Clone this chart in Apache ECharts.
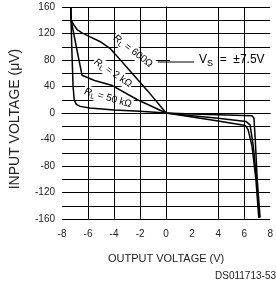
<!DOCTYPE html>
<html>
<head>
<meta charset="utf-8">
<script src="https://cdn.jsdelivr.net/npm/echarts@6/dist/echarts.min.js"></script>
<style>
html, body { margin: 0; padding: 0; background: #fff; }
#chart { width: 276px; height: 284px; }
</style>
</head>
<body>
<div id="chart"></div>
<script>
// values: output voltage (V) / input voltage (uV)
var out600 = [-7.33, -7.3, -7.09, -6.84, -6.46, -5.84, -5.09, -4.34, -3.96, -2.7, -1.4, 0, 2, 4, 6.1, 6.3, 6.6, 6.9, 7.12];
var in600  = [160, 140, 133, 126, 121, 115, 108, 98, 90, 62, 33, 0, -6, -12, -19, -25, -50, -100, -158];

var out2k = [-7.33, -7.3, -6.9, -6.46, -5.5, -4.2, -2.2, 0, 2, 4, 6.15, 6.45, 6.7, 6.95, 7.17];
var in2k  = [160, 140, 100, 57, 49, 42, 20, 0, -4, -8, -13, -18, -50, -100, -158];

var out50k = [-7.33, -7.25, -7.15, -7.06, -6.9, -6.6, -5.86, -4, -2, 0, 2, 4, 6.6, 6.75, 6.85, 7.0, 7.22];
var in50k  = [160, 100, 40, 20, 13, 10, 7.5, 4.5, 2.5, 0, -1.5, -2.5, -4, -8, -40, -100, -158];

// vertical grid lines that show in the original (the one at 2 V is missing there)
var xGridValues = [-6, -4, -2, 0, 4, 6];

function pairs(xs, ys) {
    return xs.map(function (x, i) { return [x, ys[i]]; });
}

var chart = echarts.init(document.getElementById('chart'));

var txt = '#222';
var lineStyle = { color: '#000', width: 1.5 };

var subRich = {
    r: { fontStyle: 'italic', fontSize: 10, fontFamily: 'Liberation Sans', color: txt },
    s: { fontSize: 7, fontFamily: 'Liberation Sans', color: txt, padding: [6, 0, 0, 0] },
    t: { fontSize: 10, fontFamily: 'Liberation Sans', color: txt }
};

function curveLabel(text, x, y, rot) {
    return {
        type: 'text',
        x: x, y: y,
        rotation: rot,
        z: 1,
        style: {
            text: text,
            rich: subRich,
            align: 'center',
            verticalAlign: 'middle',
            backgroundColor: '#fff',
            padding: [0, 1]
        }
    };
}

var option = {
    animation: false,
    grid: { left: 59, top: 7, right: 3, bottom: 65 },
    xAxis: {
        type: 'value',
        min: -8, max: 8, interval: 2,
        name: 'OUTPUT VOLTAGE (V)',
        nameLocation: 'middle',
        nameGap: 34,
        nameTextStyle: { fontSize: 11, color: txt, fontFamily: 'Liberation Sans' },
        axisLine: { show: true, lineStyle: { color: '#000', width: 1 } },
        axisTick: { show: false },
        axisLabel: { fontSize: 10, color: txt, margin: 10, fontFamily: 'Liberation Sans' },
        splitLine: { show: false }
    },
    yAxis: {
        type: 'value',
        min: -160, max: 160, interval: 40,
        name: 'INPUT VOLTAGE (μV)',
        nameLocation: 'middle',
        nameGap: 40,
        nameTextStyle: { fontSize: 14, color: txt, fontFamily: 'Liberation Sans', padding: [0, 12, 0, 0] },
        axisLine: { show: true, lineStyle: { color: '#000', width: 1 } },
        axisTick: { show: false },
        axisLabel: { fontSize: 10, color: txt, margin: 7, fontFamily: 'Liberation Sans' },
        splitLine: { show: true, lineStyle: { color: '#000', width: 1 } },
        minorTick: { show: false, splitNumber: 2 },
        minorSplitLine: { show: true, lineStyle: { color: '#000', width: 1 } }
    },
    series: [
        {
            name: '600',
            type: 'line',
            data: pairs(out600, in600),
            showSymbol: false,
            lineStyle: lineStyle,
            markLine: {
                silent: true,
                symbol: 'none',
                label: { show: false },
                lineStyle: { color: '#000', width: 1, type: 'solid' },
                data: xGridValues.map(function (v) { return { xAxis: v }; })
            }
        },
        {
            name: '2k',
            type: 'line',
            data: pairs(out2k, in2k),
            showSymbol: false,
            lineStyle: lineStyle
        },
        {
            name: '50k',
            type: 'line',
            data: pairs(out50k, in50k),
            showSymbol: false,
            lineStyle: lineStyle
        }
    ],
    graphic: [
        curveLabel('{r|R}{s|L}{t| = 600Ω}', 133, 51, -0.66),
        curveLabel('{r|R}{s|L}{t| = 2 kΩ}', 113, 73, -0.59),
        curveLabel('{r|R}{s|L}{t| = 50 kΩ}', 108, 98, -0.28),
        {
            type: 'rect',
            z: 1,
            shape: { x: 170, y: 48, width: 106, height: 23 },
            style: { fill: '#fff' }
        },
        {
            type: 'line',
            z: 1,
            shape: { x1: 158, y1: 62, x2: 194, y2: 62 },
            style: { stroke: '#000', lineWidth: 1 }
        },
        {
            type: 'text',
            z: 1,
            x: 199, y: 60,
            style: {
                text: '{t|V}{s|S}{t|  =  ±7.5V}',
                rich: {
                    t: { fontSize: 12, fontFamily: 'Liberation Sans', color: txt },
                    s: { fontSize: 9, fontFamily: 'Liberation Sans', color: txt, padding: [7, 0, 0, 0] }
                },
                align: 'left',
                verticalAlign: 'middle'
            }
        },
        {
            type: 'text',
            right: 0,
            bottom: 3,
            style: {
                text: 'DS011713-53',
                fontSize: 10,
                fontFamily: 'Liberation Sans',
                fill: txt
            }
        }
    ]
};

chart.setOption(option);
</script>
</body>
</html>
